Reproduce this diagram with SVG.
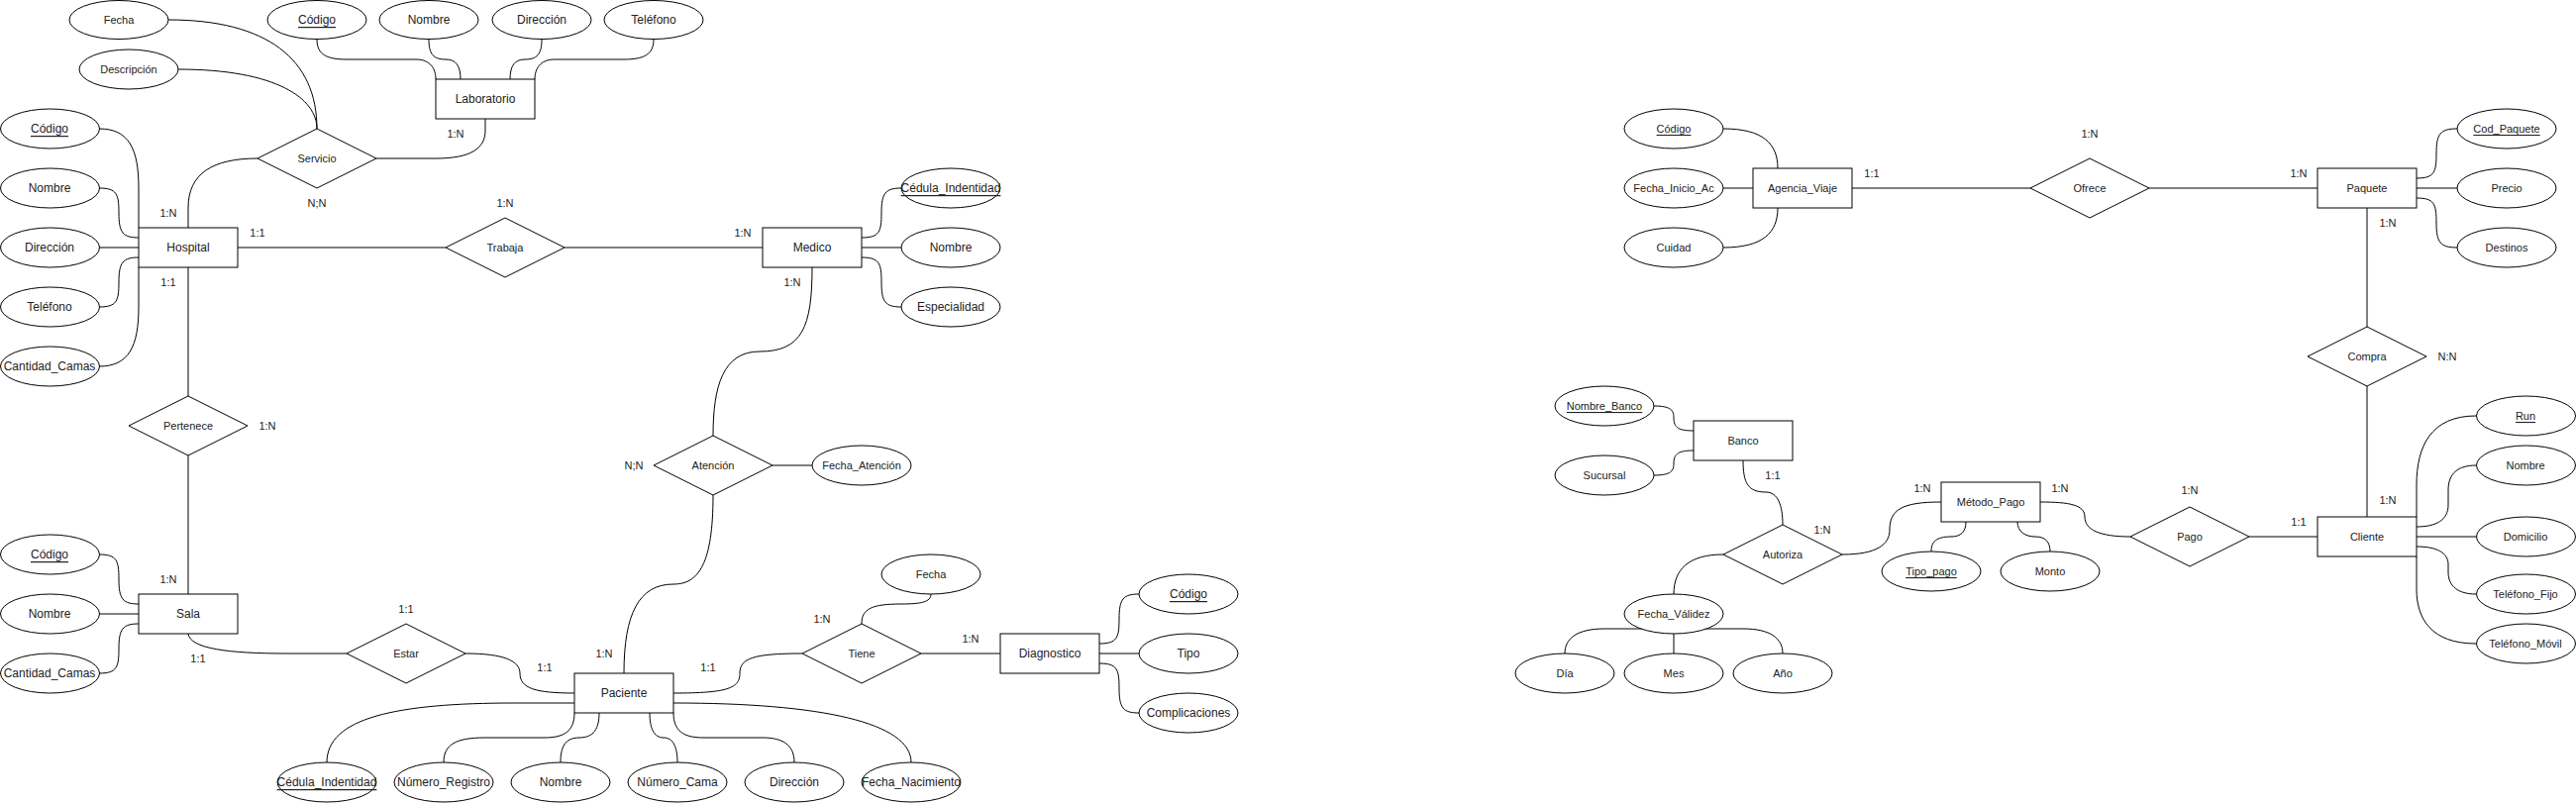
<svg xmlns="http://www.w3.org/2000/svg" width="2601" height="812" viewBox="0 0 2601 812">
<style>
  .bg{fill:#ffffff}
  .e{fill:none;stroke:#000;stroke-width:1}
  .ent{fill:#fff;stroke:#000;stroke-width:1}
  .rel{fill:#fff;stroke:#000;stroke-width:1}
  .att{fill:#fff;stroke:#000;stroke-width:1}
  text{font-family:"Liberation Sans",Arial,Helvetica,sans-serif;fill:#222;text-anchor:middle;dominant-baseline:central}
  .s12{font-size:12px}
  .s11{font-size:11px}
  .lbl{font-size:11px}
  .u{text-decoration:underline}
</style>
<rect class="bg" x="0" y="0" width="2601" height="812"/>

<g id="connectors">
  <!-- Hospital attributes -->
  <path class="e" d="M100,130 C130,130 140,150 140,190 L140,230"/>
  <path class="e" d="M100,190 C118,190 120,196 120,215 C120,235 124,240 140,240"/>
  <path class="e" d="M100,250 L140,250"/>
  <path class="e" d="M100,310 C118,310 120,304 120,285 C120,265 124,260 140,260"/>
  <path class="e" d="M100,370 C130,370 140,350 140,310 L140,270"/>
  <!-- Servicio -->
  <path class="e" d="M190,230 L190,210 C190,175 215,160 260,160"/>
  <path class="e" d="M380,160 L440,160 C475,160 490,150 490,132 L490,120"/>
  <path class="e" d="M170,20 C270,20 320,60 320,130"/>
  <path class="e" d="M180,70 C280,70 320,100 320,130"/>
  <!-- Laboratorio attributes -->
  <path class="e" d="M320,40 C320,55 330,60 350,60 L420,60 C435,60 440,70 440,80"/>
  <path class="e" d="M433,40 C433,55 438,60 450,60 C460,60 465,66 465,80"/>
  <path class="e" d="M547,40 C547,55 542,60 530,60 C520,60 515,66 515,80"/>
  <path class="e" d="M660,40 C660,55 650,60 630,60 L560,60 C545,60 540,70 540,80"/>
  <!-- Trabaja -->
  <path class="e" d="M240,250 L450,250"/>
  <path class="e" d="M570,250 L770,250"/>
  <!-- Medico attributes -->
  <path class="e" d="M870,240 C888,240 890,234 890,215 C890,195 894,190 910,190"/>
  <path class="e" d="M870,250 L910,250"/>
  <path class="e" d="M870,260 C888,260 890,266 890,285 C890,305 894,310 910,310"/>
  <!-- Medico - Atencion - Paciente -->
  <path class="e" d="M820,270 C820,330 810,355 767,355 C730,355 720,390 720,440"/>
  <path class="e" d="M780,470 L820,470"/>
  <path class="e" d="M720,500 C720,570 705,590 680,590 C645,590 630,620 630,680"/>
  <!-- Pertenece -->
  <path class="e" d="M190,270 L190,400"/>
  <path class="e" d="M190,460 L190,600"/>
  <!-- Sala attributes -->
  <path class="e" d="M100,560 C118,560 120,566 120,585 C120,605 124,610 140,610"/>
  <path class="e" d="M100,620 L140,620"/>
  <path class="e" d="M100,680 C118,680 120,674 120,655 C120,635 124,630 140,630"/>
  <!-- Estar -->
  <path class="e" d="M190,640 C192,655 230,660 290,660 L350,660"/>
  <path class="e" d="M470,660 C510,660 525,668 525,680 C525,695 540,700 580,700"/>
  <!-- Tiene -->
  <path class="e" d="M680,700 C735,700 747,695 747,680 C747,665 760,660 810,660"/>
  <path class="e" d="M940,600 C940,608 930,610 910,610 C880,610 870,615 870,630"/>
  <path class="e" d="M930,660 L1010,660"/>
  <!-- Diagnostico attributes -->
  <path class="e" d="M1110,650 C1128,650 1130,644 1130,625 C1130,605 1134,600 1150,600"/>
  <path class="e" d="M1110,660 L1150,660"/>
  <path class="e" d="M1110,670 C1128,670 1130,676 1130,695 C1130,715 1134,720 1150,720"/>
  <!-- Paciente attributes -->
  <path class="e" d="M580,710 L520,710 C400,710 330,725 330,770"/>
  <path class="e" d="M448,770 C448,752 460,745 490,745 L550,745 C570,745 580,738 580,720"/>
  <path class="e" d="M566,770 C566,755 570,745 585,745 C600,745 605,735 605,720"/>
  <path class="e" d="M684,770 C684,755 680,745 670,745 C660,745 656,735 656,720"/>
  <path class="e" d="M802,770 C802,752 790,745 770,745 L710,745 C690,745 680,738 680,720"/>
  <path class="e" d="M680,710 C830,710 920,730 920,770"/>

  <!-- Right diagram -->
  <path class="e" d="M1740,130 C1780,130 1795,145 1795,170"/>
  <path class="e" d="M1740,190 L1770,190"/>
  <path class="e" d="M1740,250 C1780,250 1795,235 1795,210"/>
  <path class="e" d="M1870,190 L2050,190"/>
  <path class="e" d="M2170,190 L2340,190"/>
  <path class="e" d="M2440,180 C2458,180 2460,174 2460,155 C2460,135 2464,130 2481,130"/>
  <path class="e" d="M2440,190 L2481,190"/>
  <path class="e" d="M2440,200 C2458,200 2460,206 2460,225 C2460,245 2464,250 2481,250"/>
  <path class="e" d="M2390,210 L2390,330"/>
  <path class="e" d="M2390,390 L2390,522"/>
  <!-- Banco -->
  <path class="e" d="M1670,410 C1688,410 1690,415 1690,422 C1690,432 1695,435 1710,435"/>
  <path class="e" d="M1670,480 C1688,480 1690,475 1690,468 C1690,458 1695,455 1710,455"/>
  <path class="e" d="M1760,465 C1760,488 1765,497 1783,497 C1795,497 1800,510 1800,530"/>
  <path class="e" d="M1740,560 C1705,560 1690,575 1690,600"/>
  <path class="e" d="M1860,560 C1895,560 1908,550 1908,535 C1908,515 1920,507 1960,507"/>
  <!-- Fecha_Validez -->
  <path class="e" d="M1580,660 C1580,645 1592,635 1620,635 L1690,635"/>
  <path class="e" d="M1690,640 L1690,660"/>
  <path class="e" d="M1800,660 C1800,645 1788,635 1760,635 L1690,635"/>
  <!-- Metodo_Pago attributes -->
  <path class="e" d="M1985,527 C1985,537 1980,542 1970,542 C1955,542 1950,547 1950,557"/>
  <path class="e" d="M2037,527 C2037,537 2045,542 2055,542 C2065,542 2070,547 2070,557"/>
  <!-- Pago -->
  <path class="e" d="M2060,507 C2090,507 2105,510 2105,522 C2105,535 2120,542 2151,542"/>
  <path class="e" d="M2271,542 L2340,542"/>
  <!-- Cliente attributes -->
  <path class="e" d="M2500,420 C2455,420 2440,450 2440,490 L2440,522"/>
  <path class="e" d="M2500,470 C2482,470 2472,478 2472,495 L2472,510 C2472,525 2460,532 2440,532"/>
  <path class="e" d="M2440,542 L2500,542"/>
  <path class="e" d="M2500,600 C2482,600 2472,592 2472,578 L2472,570 C2472,558 2460,552 2440,552"/>
  <path class="e" d="M2500,650 C2455,650 2440,625 2440,595 L2440,562"/>
</g>

<g id="labels">
  <text class="lbl" x="320" y="205">N;N</text>
  <text class="lbl" x="460" y="135">1:N</text>
  <text class="lbl" x="510" y="205">1:N</text>
  <text class="lbl" x="170" y="215">1:N</text>
  <text class="lbl" x="260" y="235">1:1</text>
  <text class="lbl" x="170" y="285">1:1</text>
  <text class="lbl" x="750" y="235">1:N</text>
  <text class="lbl" x="800" y="285">1:N</text>
  <text class="lbl" x="270" y="430">1:N</text>
  <text class="lbl" x="170" y="585">1:N</text>
  <text class="lbl" x="410" y="615">1:1</text>
  <text class="lbl" x="200" y="665">1:1</text>
  <text class="lbl" x="640" y="470">N;N</text>
  <text class="lbl" x="610" y="660">1:N</text>
  <text class="lbl" x="550" y="674">1:1</text>
  <text class="lbl" x="715" y="674">1:1</text>
  <text class="lbl" x="830" y="625">1:N</text>
  <text class="lbl" x="980" y="645">1:N</text>
  <text class="lbl" x="2110" y="135">1:N</text>
  <text class="lbl" x="1890" y="175">1:1</text>
  <text class="lbl" x="2321" y="175">1:N</text>
  <text class="lbl" x="2411" y="225">1:N</text>
  <text class="lbl" x="2471" y="360">N:N</text>
  <text class="lbl" x="1790" y="480">1:1</text>
  <text class="lbl" x="1840" y="535">1:N</text>
  <text class="lbl" x="1941" y="493">1:N</text>
  <text class="lbl" x="2080" y="493">1:N</text>
  <text class="lbl" x="2211" y="495">1:N</text>
  <text class="lbl" x="2321" y="527">1:1</text>
  <text class="lbl" x="2411" y="505">1:N</text>
</g>

<!-- Entities left -->
<g id="hospital"><rect class="ent" x="140" y="230" width="100" height="40"/><text class="s12" x="190" y="250">Hospital</text></g>
<g id="laboratorio"><rect class="ent" x="440" y="80" width="100" height="40"/><text class="s12" x="490" y="100">Laboratorio</text></g>
<g id="medico"><rect class="ent" x="770" y="230" width="100" height="40"/><text class="s12" x="820" y="250">Medico</text></g>
<g id="sala"><rect class="ent" x="140" y="600" width="100" height="40"/><text class="s12" x="190" y="620">Sala</text></g>
<g id="paciente"><rect class="ent" x="580" y="680" width="100" height="40"/><text class="s12" x="630" y="700">Paciente</text></g>
<g id="diagnostico"><rect class="ent" x="1010" y="640" width="100" height="40"/><text class="s12" x="1060" y="660">Diagnostico</text></g>

<!-- Relationships left -->
<g id="servicio"><polygon class="rel" points="260,160 320,130 380,160 320,190"/><text class="s11" x="320" y="160">Servicio</text></g>
<g id="trabaja"><polygon class="rel" points="450,250 510,220 570,250 510,280"/><text class="s11" x="510" y="250">Trabaja</text></g>
<g id="pertenece"><polygon class="rel" points="130,430 190,400 250,430 190,460"/><text class="s11" x="190" y="430">Pertenece</text></g>
<g id="estar"><polygon class="rel" points="350,660 410,630 470,660 410,690"/><text class="s11" x="410" y="660">Estar</text></g>
<g id="atencion"><polygon class="rel" points="660,470 720,440 780,470 720,500"/><text class="s11" x="720" y="470">Atención</text></g>
<g id="tiene"><polygon class="rel" points="810,660 870,630 930,660 870,690"/><text class="s11" x="870" y="660">Tiene</text></g>

<!-- Attributes left -->
<g id="serv-fecha"><ellipse class="att" cx="120" cy="20" rx="50" ry="19.5"/><text class="s11" x="120" y="20">Fecha</text></g>
<g id="serv-descripcion"><ellipse class="att" cx="130" cy="70" rx="50" ry="20"/><text class="s11" x="130" y="70">Descripción</text></g>
<g id="lab-codigo"><ellipse class="att" cx="320" cy="20" rx="50" ry="19.5"/><text class="s12 u" x="320" y="20">Código</text></g>
<g id="lab-nombre"><ellipse class="att" cx="433" cy="20" rx="50" ry="19.5"/><text class="s12" x="433" y="20">Nombre</text></g>
<g id="lab-direccion"><ellipse class="att" cx="547" cy="20" rx="50" ry="19.5"/><text class="s12" x="547" y="20">Dirección</text></g>
<g id="lab-telefono"><ellipse class="att" cx="660" cy="20" rx="50" ry="19.5"/><text class="s12" x="660" y="20">Teléfono</text></g>

<g id="hosp-codigo"><ellipse class="att" cx="50.5" cy="130" rx="50" ry="20"/><text class="s12 u" x="50" y="130">Código</text></g>
<g id="hosp-nombre"><ellipse class="att" cx="50.5" cy="190" rx="50" ry="20"/><text class="s12" x="50" y="190">Nombre</text></g>
<g id="hosp-direccion"><ellipse class="att" cx="50.5" cy="250" rx="50" ry="20"/><text class="s12" x="50" y="250">Dirección</text></g>
<g id="hosp-telefono"><ellipse class="att" cx="50.5" cy="310" rx="50" ry="20"/><text class="s12" x="50" y="310">Teléfono</text></g>
<g id="hosp-camas"><ellipse class="att" cx="50.5" cy="370" rx="50" ry="20"/><text class="s12" x="50" y="370">Cantidad_Camas</text></g>

<g id="med-cedula"><ellipse class="att" cx="960" cy="190" rx="50" ry="20"/><text class="s12 u" x="960" y="190">Cédula_Indentidad</text></g>
<g id="med-nombre"><ellipse class="att" cx="960" cy="250" rx="50" ry="20"/><text class="s12" x="960" y="250">Nombre</text></g>
<g id="med-especialidad"><ellipse class="att" cx="960" cy="310" rx="50" ry="20"/><text class="s12" x="960" y="310">Especialidad</text></g>

<g id="at-fecha"><ellipse class="att" cx="870" cy="470" rx="50" ry="20"/><text class="s11" x="870" y="470">Fecha_Atención</text></g>

<g id="sala-codigo"><ellipse class="att" cx="50.5" cy="560" rx="50" ry="20"/><text class="s12 u" x="50" y="560">Código</text></g>
<g id="sala-nombre"><ellipse class="att" cx="50.5" cy="620" rx="50" ry="20"/><text class="s12" x="50" y="620">Nombre</text></g>
<g id="sala-camas"><ellipse class="att" cx="50.5" cy="680" rx="50" ry="20"/><text class="s12" x="50" y="680">Cantidad_Camas</text></g>

<g id="tiene-fecha"><ellipse class="att" cx="940" cy="580" rx="50" ry="20"/><text class="s11" x="940" y="580">Fecha</text></g>

<g id="diag-codigo"><ellipse class="att" cx="1200" cy="600" rx="50" ry="20"/><text class="s12 u" x="1200" y="600">Código</text></g>
<g id="diag-tipo"><ellipse class="att" cx="1200" cy="660" rx="50" ry="20"/><text class="s12" x="1200" y="660">Tipo</text></g>
<g id="diag-complicaciones"><ellipse class="att" cx="1200" cy="720" rx="50" ry="20"/><text class="s12" x="1200" y="720">Complicaciones</text></g>

<g id="pac-cedula"><ellipse class="att" cx="330" cy="790" rx="50" ry="20"/><text class="s12 u" x="330" y="790">Cédula_Indentidad</text></g>
<g id="pac-registro"><ellipse class="att" cx="448" cy="790" rx="50" ry="20"/><text class="s12" x="448" y="790">Número_Registro</text></g>
<g id="pac-nombre"><ellipse class="att" cx="566" cy="790" rx="50" ry="20"/><text class="s12" x="566" y="790">Nombre</text></g>
<g id="pac-cama"><ellipse class="att" cx="684" cy="790" rx="50" ry="20"/><text class="s12" x="684" y="790">Número_Cama</text></g>
<g id="pac-direccion"><ellipse class="att" cx="802" cy="790" rx="50" ry="20"/><text class="s12" x="802" y="790">Dirección</text></g>
<g id="pac-nacimiento"><ellipse class="att" cx="920" cy="790" rx="50" ry="20"/><text class="s12" x="920" y="790">Fecha_Nacimiento</text></g>

<!-- Right diagram entities -->
<g id="agencia"><rect class="ent" x="1770" y="170" width="100" height="40"/><text class="s11" x="1820" y="190">Agencia_Viaje</text></g>
<g id="paquete"><rect class="ent" x="2340" y="170" width="100" height="40"/><text class="s11" x="2390" y="190">Paquete</text></g>
<g id="banco"><rect class="ent" x="1710" y="425" width="100" height="40"/><text class="s11" x="1760" y="445">Banco</text></g>
<g id="metodo-pago"><rect class="ent" x="1960" y="487" width="100" height="40"/><text class="s11" x="2010" y="507">Método_Pago</text></g>
<g id="cliente"><rect class="ent" x="2340" y="522" width="100" height="40"/><text class="s11" x="2390" y="542">Cliente</text></g>

<!-- Right relationships -->
<g id="ofrece"><polygon class="rel" points="2050,190 2110,160 2170,190 2110,220"/><text class="s11" x="2110" y="190">Ofrece</text></g>
<g id="compra"><polygon class="rel" points="2330,360 2390,330 2450,360 2390,390"/><text class="s11" x="2390" y="360">Compra</text></g>
<g id="autoriza"><polygon class="rel" points="1740,560 1800,530 1860,560 1800,590"/><text class="s11" x="1800" y="560">Autoriza</text></g>
<g id="pago"><polygon class="rel" points="2151,542 2211,512 2271,542 2211,572"/><text class="s11" x="2211" y="542">Pago</text></g>

<!-- Right attributes -->
<g id="ag-codigo"><ellipse class="att" cx="1690" cy="130" rx="50" ry="20"/><text class="s11 u" x="1690" y="130">Código</text></g>
<g id="ag-fecha"><ellipse class="att" cx="1690" cy="190" rx="50" ry="20"/><text class="s11" x="1690" y="190">Fecha_Inicio_Ac</text></g>
<g id="ag-cuidad"><ellipse class="att" cx="1690" cy="250" rx="50" ry="20"/><text class="s11" x="1690" y="250">Cuidad</text></g>

<g id="paq-cod"><ellipse class="att" cx="2531" cy="130" rx="50" ry="20"/><text class="s11 u" x="2531" y="130">Cod_Paquete</text></g>
<g id="paq-precio"><ellipse class="att" cx="2531" cy="190" rx="50" ry="20"/><text class="s11" x="2531" y="190">Precio</text></g>
<g id="paq-destinos"><ellipse class="att" cx="2531" cy="250" rx="50" ry="20"/><text class="s11" x="2531" y="250">Destinos</text></g>

<g id="banco-nombre"><ellipse class="att" cx="1620" cy="410" rx="50" ry="20"/><text class="s11 u" x="1620" y="410">Nombre_Banco</text></g>
<g id="banco-sucursal"><ellipse class="att" cx="1620" cy="480" rx="50" ry="20"/><text class="s11" x="1620" y="480">Sucursal</text></g>

<g id="fecha-validez"><ellipse class="att" cx="1690" cy="620" rx="50" ry="20"/><text class="s11" x="1690" y="620">Fecha_Válidez</text></g>
<g id="dia"><ellipse class="att" cx="1580" cy="680" rx="50" ry="20"/><text class="s11" x="1580" y="680">Día</text></g>
<g id="mes"><ellipse class="att" cx="1690" cy="680" rx="50" ry="20"/><text class="s11" x="1690" y="680">Mes</text></g>
<g id="anio"><ellipse class="att" cx="1800" cy="680" rx="50" ry="20"/><text class="s11" x="1800" y="680">Año</text></g>

<g id="tipo-pago"><ellipse class="att" cx="1950" cy="577" rx="50" ry="20"/><text class="s11 u" x="1950" y="577">Tipo_pago</text></g>
<g id="monto"><ellipse class="att" cx="2070" cy="577" rx="50" ry="20"/><text class="s11" x="2070" y="577">Monto</text></g>

<g id="cli-run"><ellipse class="att" cx="2550.5" cy="420" rx="50" ry="20"/><text class="s11 u" x="2550" y="420">Run</text></g>
<g id="cli-nombre"><ellipse class="att" cx="2550.5" cy="470" rx="50" ry="20"/><text class="s11" x="2550" y="470">Nombre</text></g>
<g id="cli-domicilio"><ellipse class="att" cx="2550.5" cy="542" rx="50" ry="20"/><text class="s11" x="2550" y="542">Domicilio</text></g>
<g id="cli-fijo"><ellipse class="att" cx="2550.5" cy="600" rx="50" ry="20"/><text class="s11" x="2550" y="600">Teléfono_Fijo</text></g>
<g id="cli-movil"><ellipse class="att" cx="2550.5" cy="650" rx="50" ry="20"/><text class="s11" x="2550" y="650">Teléfono_Móvil</text></g>
</svg>
